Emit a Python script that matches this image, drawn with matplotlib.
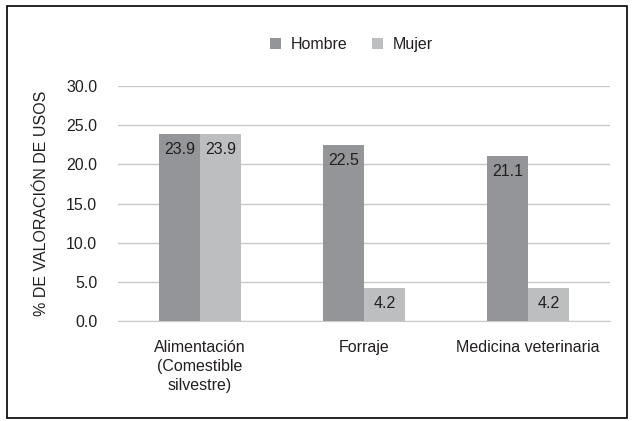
import numpy as np
import matplotlib.pyplot as plt
from matplotlib.patches import Rectangle

plt.rcParams['font.family'] = ['Liberation Sans', 'DejaVu Sans']

categorias = ["Alimentación\n(Comestible\nsilvestre)", "Forraje", "Medicina veterinaria"]
hombre = [23.9, 22.5, 21.1]
mujer = [23.9, 4.2, 4.2]
yticks = [0, 5, 10, 15, 20, 25, 30]

col_h = "#939598"
col_m = "#bcbec0"
txt = "#231f20"
fs = 11.5

fig = plt.figure(figsize=(6.33, 4.21), dpi=100)
ax = fig.add_axes([0.1864, 0.2375, 0.777, 0.558])

x = np.arange(len(categorias))
w = 0.25
b1 = ax.bar(x - w/2, hombre, w, color=col_h, label="Hombre", zorder=2)
b2 = ax.bar(x + w/2, mujer, w, color=col_m, label="Mujer", zorder=2)

for bars, vals in ((b1, hombre), (b2, mujer)):
    for r, v in zip(bars, vals):
        ax.annotate(f"{v:.1f}", (r.get_x() + r.get_width()/2, v),
                    xytext=(0, -6), textcoords="offset points",
                    ha="center", va="top", fontsize=fs, color=txt, zorder=3)

ax.set_xlim(-0.5, 2.5)
ax.set_ylim(0, 30)
ax.set_yticks(yticks)
ax.set_yticklabels([f"{v:.1f}" for v in yticks])
ax.set_xticks(x)
ax.set_xticklabels(categorias, linespacing=1.3)
ax.tick_params(axis="both", length=0, labelsize=fs, colors=txt)
ax.tick_params(axis="y", pad=15)
ax.tick_params(axis="x", pad=14)
ax.yaxis.grid(True, color="#c9c9c9", linewidth=1, zorder=0)
for s in ("top", "right", "left"):
    ax.spines[s].set_visible(False)
ax.spines["bottom"].set_color("#c9c9c9")
ax.spines["bottom"].set_zorder(1)

ax.set_ylabel("% DE VALORACIÓN DE USOS", fontsize=fs, color=txt, labelpad=12)

fig.legend(handles=[b1, b2], loc="center", bbox_to_anchor=(0.555, 0.895),
           ncol=2, frameon=False, fontsize=fs, handlelength=0.7,
           handleheight=0.7, handletextpad=0.6, columnspacing=1.5,
           labelcolor=txt)

fig.patches.append(Rectangle((7/633, 3/421), 620/633, 412/421,
                             transform=fig.transFigure, fill=False,
                             edgecolor="black", linewidth=1.2))

fig.savefig("out.png", dpi=100)
